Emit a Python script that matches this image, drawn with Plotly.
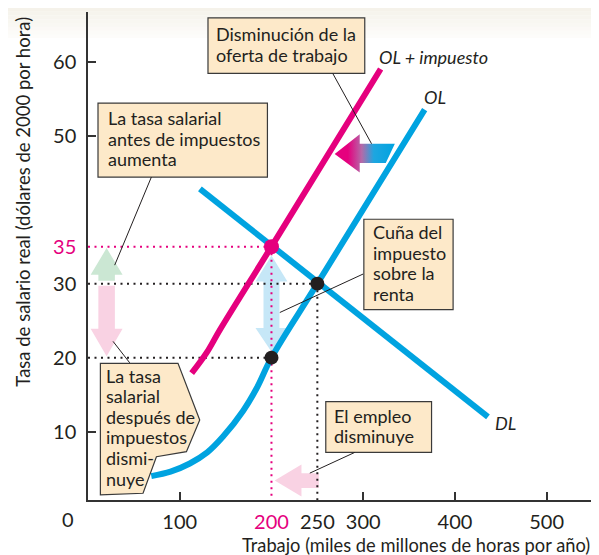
import plotly.graph_objects as go

PINK = "#e5007e"
BLUE = "#00a3e0"
INK = "#231f20"
BOX = "#fde9c9"
FONT = "Lato"

# curvas
ol_x = [69, 90, 111, 130, 147, 169, 184, 200, 250, 367]
ol_y = [4.0, 4.6, 5.7, 7.2, 9.3, 12.8, 15.9, 20, 30, 53.5]
olt_x = [113, 129, 144, 200, 319]
olt_y = [17.9, 20.6, 23.8, 35, 59]
dl_x = [122, 436]
dl_y = [42.8, 12.0]

# equilibrios
emp_before, wage_before = 250, 30
emp_after, wage_gross, wage_net = 200, 35, 20

y_ticks = [10, 20, 30, 35, 50, 60]
x_ticks = [100, 200, 250, 300, 400, 500]
y_marks = [10, 50, 60]
x_marks = [100, 300, 400, 500]

notes = [
    ["Disminución de la", "oferta de trabajo"],
    ["La tasa salarial", "antes de impuestos", "aumenta"],
    ["Cuña del", "impuesto", "sobre la", "renta"],
    ["El empleo", "disminuye"],
    ["La tasa", "salarial", "después de", "impuestos", "dismi-", "nuye"],
]


def label(v, hi):
    return f'<span style="color:{PINK}">{v}</span>' if v == hi else str(v)


def poly(pts):
    return "M " + " L ".join(f"{x},{y}" for x, y in pts) + " Z"


def v_arrow(xc, y_base, y_tip, head_len, shaft=9.0, head=17.4):
    s = 1 if y_tip > y_base else -1
    yh = y_tip - s * head_len
    return poly([(xc - shaft, y_base), (xc - shaft, yh), (xc - head, yh), (xc, y_tip),
                 (xc + head, yh), (xc + shaft, yh), (xc + shaft, y_base)])


def dbl_arrow(xc, y_top, y_bot, h1, h2, shaft=8.7, head=17.4):
    return poly([(xc, y_top), (xc + head, y_top - h1), (xc + shaft, y_top - h1),
                 (xc + shaft, y_bot + h2), (xc + head, y_bot + h2), (xc, y_bot),
                 (xc - head, y_bot + h2), (xc - shaft, y_bot + h2),
                 (xc - shaft, y_top - h1), (xc - head, y_top - h1)])


fig = go.Figure()

dot = dict(color=INK, width=2, dash="2px,4.5px")
dotp = dict(color=PINK, width=2, dash="2px,4.5px")
fig.add_trace(go.Scatter(x=[0, emp_after], y=[wage_gross] * 2, mode="lines", line=dotp))
fig.add_trace(go.Scatter(x=[emp_after] * 2, y=[wage_gross, 0], mode="lines", line=dotp))
fig.add_trace(go.Scatter(x=[0, emp_before], y=[wage_before] * 2, mode="lines", line=dot))
fig.add_trace(go.Scatter(x=[emp_before] * 2, y=[wage_before, 0], mode="lines", line=dot))
fig.add_trace(go.Scatter(x=[0, emp_after], y=[wage_net] * 2, mode="lines", line=dot))

fig.add_trace(go.Scatter(x=dl_x, y=dl_y, mode="lines", line=dict(color=BLUE, width=6)))
fig.add_trace(go.Scatter(x=ol_x, y=ol_y, mode="lines", line=dict(color=BLUE, width=6, shape="spline")))
fig.add_trace(go.Scatter(x=olt_x, y=olt_y, mode="lines", line=dict(color=PINK, width=6, shape="spline")))

# flecha con degradado (desplazamiento de la oferta)
gx = [268.9, 296.2, 296.2, 334.5, 324.6, 296.2, 296.2, 268.9]
gy = [47.5, 50.2, 48.9, 48.9, 46.3, 46.3, 45.0, 47.5]
fig.add_trace(go.Scatter(
    x=gx, y=gy, mode="lines", fill="toself", line=dict(width=0),
    fillgradient=dict(type="horizontal", colorscale=[
        [0, PINK], [0.22, PINK], [0.45, "#b46aa9"], [0.65, "#1ea6e0"], [1, BLUE]]),
))

fig.add_trace(go.Scatter(x=[emp_after, emp_before], y=[wage_net, wage_before], mode="markers",
                         marker=dict(color=INK, size=14)))
fig.add_trace(go.Scatter(x=[emp_after], y=[wage_gross], mode="markers",
                         marker=dict(color=PINK, size=15)))
fig.update_traces(hoverinfo="skip", showlegend=False, cliponaxis=False)

shapes = []
# banda superior
for i in range(8):
    shapes.append(dict(type="rect", xref="paper", yref="paper", x0=-0.16, x1=1.02,
                       y0=1.008 - (i + 1) * 0.00766, y1=1.008 - i * 0.00766,
                       fillcolor="#f4f1e8", opacity=0.9 - i * 0.1, line_width=0, layer="below"))
# flechas claras
shapes += [
    dict(type="path", path=v_arrow(20.3, 30.4, 34.8, 3.6), fillcolor="#cbe7d3", line_width=0, layer="below"),
    dict(type="path", path=v_arrow(20.3, 29.7, 20.2, 3.7), fillcolor="#f9d2e3", line_width=0, layer="below"),
    dict(type="path", path=dbl_arrow(200, 33.8, 20.8, 3.5, 3.2), fillcolor="#c6e7f7", line_width=0, layer="below"),
    dict(type="path", path=poly([(203.5, 3.4), (232.7, 5.55), (232.7, 4.4), (251.6, 4.4),
                                 (251.6, 2.4), (232.7, 2.4), (232.7, 1.25)]),
         fillcolor="#f9d2e3", line_width=0, layer="below"),
]
# cuadros
box = dict(fillcolor=BOX, line=dict(color="#3a3a3a", width=1.2), layer="above")
shapes += [
    dict(type="rect", x0=130.8, x1=301.7, y0=58.4, y1=65.9, **box),
    dict(type="rect", x0=10.9, x1=195.6, y0=44.4, y1=54.4, **box),
    dict(type="rect", x0=300.7, x1=398.0, y0=26.5, y1=38.7, **box),
    dict(type="rect", x0=259.2, x1=374.5, y0=7.2, y1=14.05, **box),
    dict(type="path", path=poly([(13.5, 19.24), (98.1, 19.24), (121.8, 11.58), (107.3, 7.3),
                                 (74.6, 6.62), (60.0, 1.68), (13.5, 1.45)]), **box),
]
# líneas guía
lead = dict(type="line", line=dict(color=INK, width=1), layer="above")
for x0, y0, x1, y1 in [(266.8, 58.4, 309.1, 48.9), (69.1, 44.4, 29.1, 32.5),
                       (299.9, 31.3, 209.1, 26.1), (290.8, 7.2, 241.8, 4.4),
                       (45.5, 19.3, 27.3, 22.2)]:
    shapes.append(dict(x0=x0, y0=y0, x1=x1, y1=y1, **lead))

txt = dict(showarrow=False, align="left", xanchor="left", yanchor="middle",
           font=dict(family=FONT, size=18, color=INK))
annotations = []
step = 2.77  # 20.5 px entre líneas
for lines, (x, yc) in zip(notes, [(137.5, 62.3), (19.8, 49.6), (308.5, 32.8), (265.5, 10.8), (17.6, 10.6)]):
    top = yc + (len(lines) - 1) / 2 * step
    for i, line in enumerate(lines):
        annotations.append(dict(x=x, y=top - i * step, text=line, **txt))

annotations += [
    dict(x=314.8, y=60.6, text="<i>OL + impuesto</i>", **txt),
    dict(x=363.9, y=55.2, text="<i>OL</i>", **txt),
    dict(x=441.3, y=11.2, text="<i>DL</i>", **txt),
    dict(xref="paper", yref="paper", x=-0.0396, y=-0.039, xanchor="center", yanchor="middle",
         text="0", showarrow=False, font=dict(family=FONT, size=20, color=INK)),
    dict(xref="paper", yref="paper", x=0.998, y=-0.092, xanchor="right", yanchor="middle",
         text="Trabajo (miles de millones de horas por año)", showarrow=False,
         font=dict(family=FONT, size=18.3, color=INK)),
    dict(xref="paper", yref="paper", x=-0.129, y=0.611, xanchor="center", yanchor="middle",
         textangle=-90, text="Tasa de salario real (dólares de 2000 por hora)", showarrow=False,
         font=dict(family=FONT, size=18.5, color=INK)),
]

axis = dict(showgrid=False, zeroline=False, showline=True, linecolor="#333333", linewidth=1.5,
            ticks="", tickfont=dict(family=FONT, size=20, color=INK), tickmode="array")
# el documento deja 8 px de margen: la figura se reduce en esa medida
fig.update_layout(
    width=591, height=547, margin=dict(l=80, r=6, t=4, b=55),
    paper_bgcolor="white", plot_bgcolor="white", showlegend=False,
    xaxis=dict(range=[0, 550.5], tickvals=x_ticks, ticktext=[label(v, emp_after) for v in x_ticks],
               ticklabelstandoff=3,
               minor=dict(tickmode="array", tickvals=x_marks, ticks="inside", ticklen=8,
                          tickcolor="#333333", tickwidth=1.5), **axis),
    yaxis=dict(range=[0.77, 66.7], tickvals=y_ticks, ticktext=[label(v, wage_gross) for v in y_ticks],
               ticklabelstandoff=6,
               minor=dict(tickmode="array", tickvals=y_marks, ticks="inside", ticklen=8,
                          tickcolor="#333333", tickwidth=1.5), **axis),
    shapes=shapes, annotations=annotations,
)

fig.write_html("out.html")
